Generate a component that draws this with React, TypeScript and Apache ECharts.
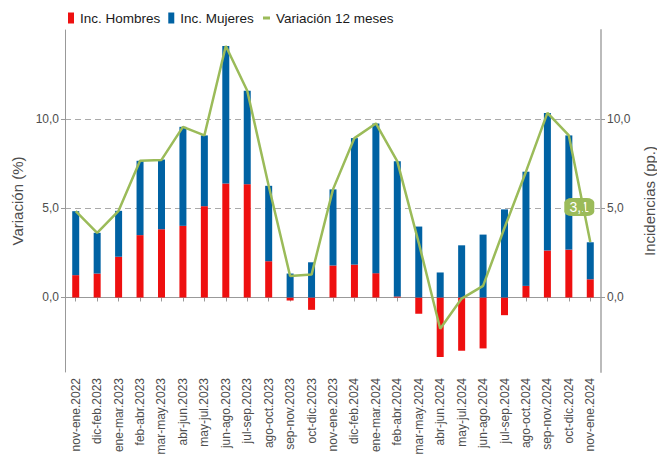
import React, { useEffect, useRef } from "react";
import * as echarts from "echarts";

const categories = [
  "nov-ene.2022", "dic-feb.2023", "ene-mar.2023", "feb-abr.2023", "mar-may.2023",
  "abr-jun.2023", "may-jul.2023", "jun-ago.2023", "jul-sep.2023", "ago-oct.2023",
  "sep-nov.2023", "oct-dic.2023", "nov-ene.2023", "dic-feb.2024", "ene-mar.2024",
  "feb-abr.2024", "mar-may.2024", "abr-jun.2024", "may-jul.2024", "jun-ago.2024",
  "jul-sep.2024", "ago-oct.2024", "sep-nov.2024", "oct-dic.2024", "nov-ene.2024",
];

const incHombres = [
  1.25, 1.34, 2.28, 3.49, 3.82, 4.01, 5.11, 6.38, 6.34, 2.03,
  -0.17, -0.69, 1.79, 1.84, 1.36, 0.06, -0.91, -3.33, -2.98, -2.85,
  -0.99, 0.65, 2.63, 2.68, 1.02,
];

const incMujeres = [
  3.58, 2.28, 2.57, 4.16, 3.9, 5.54, 3.96, 7.69, 5.23, 4.22,
  1.34, 1.97, 4.26, 7.08, 8.38, 7.56, 3.97, 1.4, 2.92, 3.52,
  4.93, 6.39, 7.7, 6.39, 2.07,
];

const variacion12 = [
  4.83, 3.62, 4.85, 7.65, 7.7, 9.55, 9.07, 14.07, 11.57, 6.25,
  1.2, 1.28, 6.05, 8.92, 9.74, 7.62, 3.06, -1.75, -0.06, 0.65,
  3.9, 7.04, 10.33, 9.07, 3.1,
];

const yTicks = [0, 5, 10];

const RED = "#ee1010";
const BLUE = "#0062a3";
const GREEN = "#9bbb59";
const fmt = (v: number) => v.toFixed(1).replace(".", ",");

export default function App() {
  const ref = useRef<HTMLDivElement>(null);
  useEffect(() => {
    if (!ref.current) return;
    const chart = echarts.init(ref.current, null, { renderer: "svg" });
    const yAxisBase = (pos: "left" | "right", name: string, lineColor: string, lineWidth: number) => ({
      type: "value" as const,
      position: pos,
      min: -4.17,
      max: 14.97,
      name,
      nameLocation: "middle" as const,
      nameRotate: 90,
      nameGap: pos === "left" ? 40 : 41,
      nameTextStyle: { color: "#4d4d4d", fontSize: 15, fontFamily: "Liberation Sans" },
      axisLine: { show: true, lineStyle: { color: lineColor, width: lineWidth } },
      axisTick: { show: true, length: 4, lineStyle: { color: "#999" }, customValues: yTicks },
      axisLabel: {
        color: "#4d4d4d",
        fontSize: 12,
        fontFamily: "Liberation Sans",
        margin: 6,
        customValues: yTicks,
        formatter: (v: number) => fmt(v),
      },
      splitLine: pos === "left"
        ? { show: true, lineStyle: { color: "#aaaaaa", type: [6, 4], width: 1 } }
        : { show: false },
    });
    const lastIdx = variacion12.length - 1;
    chart.setOption({
      animation: false,
      textStyle: { fontFamily: "Liberation Sans" },
      grid: { left: 65, right: 56, top: 30, bottom: 83, outerBoundsMode: "none", containLabel: false },
      legend: [
        {
          data: ["Inc. Hombres", "Inc. Mujeres"],
          left: 63,
          top: 6,
          itemWidth: 6,
          itemHeight: 11,
          itemGap: 8,
          icon: "rect",
          textStyle: { color: "#1a1a1a", fontSize: 13.5, padding: [0, 0, 0, 1] },
        },
        {
          data: ["Variación 12 meses"],
          left: 258,
          top: 6,
          itemWidth: 7,
          itemHeight: 3,
          icon: "rect",
          textStyle: { color: "#1a1a1a", fontSize: 13.5, padding: [0, 0, 0, 1] },
        },
      ],
      xAxis: {
        type: "category",
        data: categories,
        boundaryGap: true,
        axisLine: { show: true, lineStyle: { color: "#999", width: 1 } },
        axisTick: { show: true, alignWithLabel: true, length: 4, lineStyle: { color: "#999" } },
        axisLabel: {
          rotate: 90,
          interval: 0,
          color: "#4d4d4d",
          fontSize: 12,
          margin: 6,
        },
      },
      yAxis: [
        yAxisBase("left", "Variación (%)", "#999", 1),
        yAxisBase("right", "Incidencias (pp.)", "#bbb", 2),
      ],
      series: [
        {
          name: "Inc. Hombres",
          type: "bar",
          stack: "inc",
          data: incHombres,
          barWidth: 7,
          itemStyle: { color: RED },
        },
        {
          name: "Inc. Mujeres",
          type: "bar",
          stack: "inc",
          data: incMujeres,
          barWidth: 7,
          itemStyle: { color: BLUE },
        },
        {
          name: "Variación 12 meses",
          type: "line",
          data: variacion12,
          showSymbol: false,
          symbol: "none",
          lineStyle: { color: GREEN, width: 2.5 },
          itemStyle: { color: GREEN },
          z: 5,
          markPoint: {
            symbol: "roundRect",
            symbolSize: [30, 18],
            symbolOffset: [-11, -35],
            itemStyle: { color: GREEN },
            label: {
              show: true,
              color: "#ffffff",
              fontSize: 14,
              formatter: (p: any) => fmt(p.value),
            },
            data: [{ coord: [lastIdx, variacion12[lastIdx]], value: variacion12[lastIdx] }],
          },
        },
      ],
    });
    return () => chart.dispose();
  }, []);
  return <div ref={ref} style={{ width: 657, height: 455, position: "absolute", left: 0, top: 0 }} />;
}
